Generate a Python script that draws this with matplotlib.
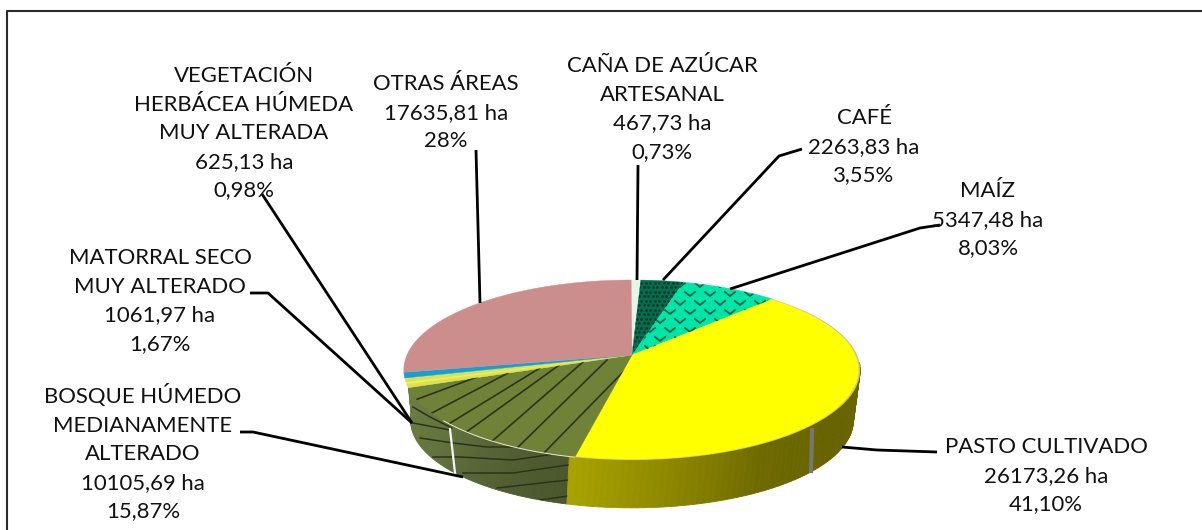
import numpy as np
import matplotlib
matplotlib.use("Agg")
import matplotlib.pyplot as plt
from matplotlib.colors import to_rgb

plt.rcParams['font.family'] = ['Lato', 'DejaVu Sans']

# slices, clockwise from 12 o'clock
categories = ["CAÑA DE AZÚCAR\nARTESANAL", "CAFÉ", "MAÍZ", "PASTO CULTIVADO",
              "BOSQUE HÚMEDO\nMEDIANAMENTE\nALTERADO", "MATORRAL SECO\nMUY ALTERADO",
              "VEGETACIÓN\nHERBÁCEA HÚMEDA\nMUY ALTERADA", "OTRAS ÁREAS"]
hectares = ["467,73", "2263,83", "5347,48", "26173,26", "10105,69", "1061,97", "625,13", "17635,81"]
pct_labels = ["0,73%", "3,55%", "8,03%", "41,10%", "15,87%", "1,67%", "0,98%", "28%"]
percents = [0.73, 3.55, 8.03, 41.10, 15.87, 1.67, 0.98, 28.0]
colors = ["#E6F5E6", "#00704F", "#00E6A8", "#FFFF00", "#708238", "#DDE050", "#12A0D8", "#CC8E8C"]

# label centre x, first line y
label_pos = [(662, 65), (864, 117), (988, 190), (1046, 446), (143, 396), (160, 257), (244, 75), (446, 83)]
leaders = [
    [(638, 165), (637, 280)],
    [(802, 149), (779, 156), (663, 280)],
    [(940, 225), (920, 228), (730, 289)],
    [(937, 452), (877, 450), (842, 447)],
    [(240, 432), (253, 432), (463, 477)],
    [(250, 293), (268, 293), (412, 423)],
    [(262, 194), (412, 423)],
    [(476, 150), (480, 303)],
]

# pie geometry in pixels
CX, CY, RX, RY, K = 632, 355, 225, 87.5, 1 / 6
DEPTH, SHRINK = 51, 0.97
SEAM_TOP, SEAM_BOT = 193.5, 194.5


def top(theta, s=1.0):
    t = np.radians(theta)
    u, v = np.sin(t), np.cos(t)
    w = 1 + K * v
    return CX + s * RX * u / w, CY - s * RY * v / w


def bottom(theta):
    x, y = top(theta, SHRINK)
    return x, y + DEPTH


def wedge(a, b, s=1.0):
    th = np.linspace(a, b, 80)
    x, y = top(th, s)
    return np.r_[CX, x], np.r_[CY, y]


def side_strip(a, b, stops, bot_a, bot_b):
    # gradient side wall, drawn as thin quads
    n = 70
    ta = np.linspace(a, b, n + 1)
    tb = np.linspace(bot_a, bot_b, n + 1)
    angs = [p[0] for p in stops]
    rgb = np.array([to_rgb(p[1]) for p in stops])
    for i in range(n):
        xt0, yt0 = top(ta[i])
        xt1, yt1 = top(ta[i + 1])
        xb0, yb0 = bottom(tb[i])
        xb1, yb1 = bottom(tb[i + 1])
        c = [np.interp(ta[i], angs, rgb[:, j]) for j in range(3)]
        ax.fill([xt0, xt1, xb1, xb0], [yt0, yt1, yb1, yb0], color=c, lw=0.6, zorder=2)


fig = plt.figure(figsize=(12.02, 5.30), dpi=100)
ax = fig.add_axes([0, 0, 1, 1])
ax.set_xlim(0, 1202)
ax.set_ylim(530, 0)
ax.axis("off")

# frame, only top and left are in the crop
ax.plot([7, 7, 1202], [530, 11, 11], color="#2b2b2b", lw=1.5, zorder=1)

ends = np.cumsum(percents) * 3.6
starts = np.r_[0, ends[:-1]]

# side walls
side_strip(starts[4], ends[4],
           [(192, "#4A562C"), (205, "#505E32"), (225, "#62723C"), (249, "#6E7E44")],
           SEAM_BOT, 265)
side_strip(95, SEAM_TOP, [(95, "#6C6800"), (125, "#666300"), (150, "#6F6A00"),
                          (170, "#8C8600"), (192, "#A8A200")], 95, SEAM_BOT)
xt, yt = top(np.linspace(SEAM_TOP, ends[4], 60))
xb, yb = bottom(np.linspace(265, SEAM_BOT, 60))
olive_side = ax.fill(np.r_[xt, xb], np.r_[yt, yb], color="none", lw=0, zorder=2)[0]

# hatch on the olive wall
side_lines = [
    [(413, 407), (430, 417), (452, 428)],
    [(413, 423), (450, 430)],
    [(420, 438), (453, 443), (487, 447), (520, 447)],
    [(433, 457), (460, 457), (513, 460), (568, 452)],
    [(463, 473), (513, 473), (568, 465)],
    [(497, 488), (568, 480)],
    [(540, 500), (568, 496)],
]
for pts in side_lines:
    p = np.array(pts)
    ln, = ax.plot(p[:, 0], p[:, 1], color="#2c3418", lw=1.1, zorder=3)
    ln.set_clip_path(olive_side)

# bright and grey seams on the wall
ax.plot([450, 455], [429, 473], color="#F4F4F4", lw=1.6, zorder=3)
ax.plot([812, 811], [430, 471], color="#777770", lw=3, zorder=3)

# top faces
polys = []
for i, c in enumerate(colors):
    if i == 3:
        x, y = wedge(starts[i], ends[i])
        ax.fill(x, y, color="#C8C488", lw=0, zorder=4)
        x, y = wedge(starts[i], ends[i], 0.992)
    else:
        x, y = wedge(starts[i], ends[i])
    polys.append(ax.fill(x, y, color=c, lw=0.3, zorder=4)[0])

# light stripe on the matorral slice
x, y = wedge(starts[5] + 2.2, starts[5] + 3.4)
ax.fill(x, y, color="#EEF060", lw=0, zorder=4)

# olive diagonals
diag = [(540, 457, 625, 370), (513, 452, 607, 360), (490, 443, 583, 362),
        (465, 433, 562, 363), (447, 425, 540, 368), (430, 414, 508, 373), (415, 400, 477, 377)]
for x0, y0, x1, y1 in diag:
    ln, = ax.plot([x0, x1], [y0, y1], color="#2c3418", lw=1.2, zorder=5)
    ln.set_clip_path(polys[4])

# v marks on the maiz slice
for r, gy in enumerate(np.arange(285, 352, 9)):
    off = 10 if r % 2 else 0
    for gx in np.arange(640 + off, 790, 20):
        ln, = ax.plot([gx - 5, gx, gx + 5], [gy - 2, gy + 2, gy - 2], color="#0B5E48", lw=1.3, zorder=5)
        ln.set_clip_path(polys[2])

# dots on the cafe slice
gx, gy = np.meshgrid(np.arange(630, 690, 4.5), np.arange(278, 358, 4.5))
gx = gx + (np.arange(gx.shape[0]) % 2)[:, None] * 2.2
dots = ax.scatter(gx.ravel(), gy.ravel(), s=4, color="#0A3526", lw=0, zorder=5)
dots.set_clip_path(polys[1])

# front rim of the olive slice
xr, yr = top(np.linspace(starts[4], 228, 40))
ax.plot(xr, yr, color="#E8E8D8", lw=0.7, zorder=6)

# leader lines
for pts in leaders:
    p = np.array(pts)
    ax.plot(p[:, 0], p[:, 1], color="black", lw=2.0, zorder=7, solid_capstyle="butt")

# labels
LINE_H = 28.6
for name, ha_txt, pc, (lx, ly) in zip(categories, hectares, pct_labels, label_pos):
    lines = name.split("\n") + [ha_txt + " ha", pc]
    for j, s in enumerate(lines):
        ax.text(lx, ly + 7 + j * LINE_H, s, ha="center", va="baseline", fontsize=15.9,
                color="#111111", zorder=8)

fig.savefig("out.png", dpi=100)
